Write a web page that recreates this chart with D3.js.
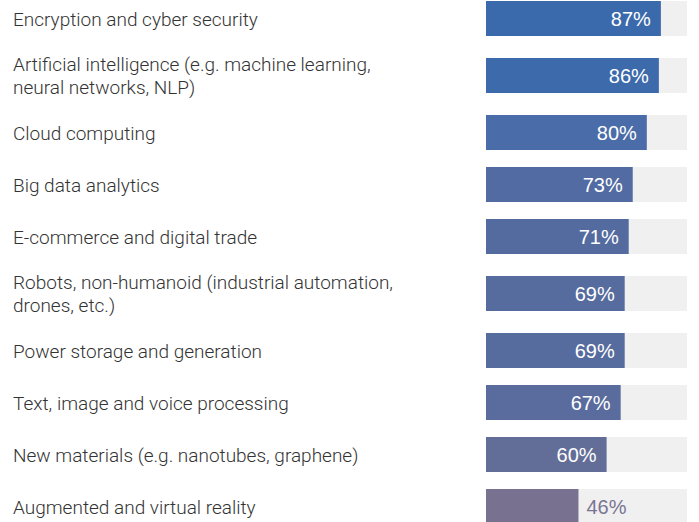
<!DOCTYPE html>
<html>
<head>
<meta charset="utf-8">
<script src="https://cdn.jsdelivr.net/npm/d3@7"></script>
<style>
  body { margin: 0; background: #fff; }
  svg { display: block; }
</style>
</head>
<body>
<svg id="chart" width="699" height="522"></svg>
<script>
// categories, each line of a label is one entry
const categories = [
  ['Encryption and cyber security'],
  ['Artificial intelligence (e.g. machine learning,', 'neural networks, NLP)'],
  ['Cloud computing'],
  ['Big data analytics'],
  ['E-commerce and digital trade'],
  ['Robots, non-humanoid (industrial automation,', 'drones, etc.)'],
  ['Power storage and generation'],
  ['Text, image and voice processing'],
  ['New materials (e.g. nanotubes, graphene)'],
  ['Augmented and virtual reality']
];
const values = [87, 86, 80, 73, 71, 69, 69, 67, 60, 46];

const width = 699, height = 522;
const svg = d3.select('#chart');

const barLeft = 486, barRight = 687;
const barH = 35;
const rowH1 = 52, rowH2 = 62;
const top0 = -7.5;

// row offsets, two-line labels get taller rows
let rows = [];
let acc = top0;
categories.forEach(function(c, i){
  let h = c.length > 1 ? rowH2 : rowH1;
  rows.push({label: c, value: values[i], y0: acc, h: h});
  acc += h;
});

let x = d3.scaleLinear()
          .domain([0, 100])
          .range([barLeft, barRight]);
let color = d3.scaleLinear()
              .domain([46, 60, 69, 80, 87])
              .range(['#78718f', '#636e98', '#566b9e', '#4a6ca8', '#3a6aab']);

let g = svg.selectAll('.row')
           .data(rows)
           .enter()
           .append('g')
           .attr('class', 'row')
           .attr('transform', function(d){ return 'translate(0,' + (d.y0 + d.h/2) + ')'; });

// background track
g.append('rect')
 .attr('x', x(0))
 .attr('y', -barH/2)
 .attr('width', x(100) - x(0))
 .attr('height', barH)
 .attr('fill', '#f0f0f0');

g.append('rect')
 .attr('x', x(0))
 .attr('y', -barH/2)
 .attr('width', function(d){ return x(d.value) - x(0); })
 .attr('height', barH)
 .attr('fill', function(d){ return color(d.value); });

// value labels, inside unless bar is short
g.append('text')
 .attr('x', function(d){ return d.value < 50 ? x(d.value) + 8 : x(d.value) - 10; })
 .attr('y', 7)
 .attr('text-anchor', function(d){ return d.value < 50 ? 'start' : 'end'; })
 .attr('font-family', '"Liberation Sans", Arial, sans-serif')
 .attr('font-size', '20px')
 .attr('fill', function(d){ return d.value < 50 ? '#7a7593' : '#ffffff'; })
 .text(function(d){ return d.value + '%'; });

// category labels
let lab = g.append('text')
           .attr('font-family', 'Roboto, "Liberation Sans", sans-serif')
           .attr('font-weight', 300)
           .attr('font-size', '19px')
           .attr('fill', '#333');
lab.selectAll('tspan')
   .data(function(d){ return d.label.map(function(t, i){ return {t: t, i: i, n: d.label.length}; }); })
   .enter()
   .append('tspan')
   .attr('x', 13)
   .attr('y', function(d){ return (d.n > 1 ? 6.5 : 7.5) + (d.i - (d.n - 1)/2) * 23; })
   .text(function(d){ return d.t; });
</script>
</body>
</html>
